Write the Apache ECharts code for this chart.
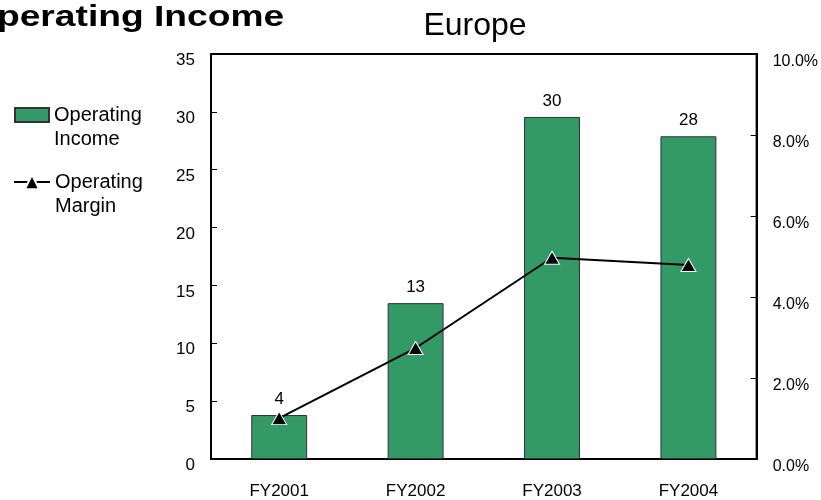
<!DOCTYPE html>
<html>
<head>
<meta charset="utf-8">
<script src="https://cdn.jsdelivr.net/npm/echarts@6/dist/echarts.min.js"></script>
<style>
  html, body { margin: 0; padding: 0; background: #fff; }
  #chart { width: 821px; height: 500px; }
</style>
</head>
<body>
<div id="chart"></div>
<script>
// Europe segment: operating income (bars, left axis) and operating margin (line, right axis)
const categories = ['FY2001', 'FY2002', 'FY2003', 'FY2004'];
const operatingIncome = [3.8, 13.47, 29.56, 27.89];
const operatingMargin = [1.01, 2.74, 4.97, 4.79]; // percent
const incomeTicks = { min: 0, max: 35, step: 5 };
const marginTicks = { min: 0, max: 10, step: 2 };

const FONT = '"Liberation Sans", Arial, sans-serif';
const chart = echarts.init(document.getElementById('chart'), null, { renderer: 'canvas' });

// legend names wrap onto two lines; the leading blank line keeps the
// first line level with the legend symbol
const twoLine = name => '\n' + name.replace(' ', '\n');
const legendText = { fontFamily: FONT, fontSize: 20, color: '#000', lineHeight: 24 };

chart.setOption({
  animation: false,
  backgroundColor: '#fff',
  graphic: [
    {
      type: 'text', x: -32, y: 18, scaleX: 1.24,
      style: { text: 'Operating Income', fontFamily: FONT, fontSize: 30, fontWeight: 'bold',
               fill: '#000', align: 'left', verticalAlign: 'middle' }
    },
    {
      type: 'text', x: 475, y: 26,
      style: { text: 'Europe', fontFamily: FONT, fontSize: 32,
               fill: '#000', align: 'center', verticalAlign: 'middle' }
    }
  ],
  legend: [
    {
      data: [{ name: 'Operating Income', icon: 'rect' }],
      orient: 'vertical', left: 14, top: 79, padding: 0,
      itemWidth: 34, itemHeight: 14, formatter: twoLine, textStyle: legendText,
      selectedMode: false
    },
    {
      data: ['Operating Margin'], orient: 'vertical', left: 13, top: 146, padding: 0,
      itemWidth: 36, itemHeight: 18, formatter: twoLine, textStyle: legendText,
      selectedMode: false
    }
  ],
  grid: {
    left: 211, right: 64, top: 54, bottom: 39,
    show: true, borderColor: '#000', borderWidth: 2, backgroundColor: 'transparent'
  },
  xAxis: {
    type: 'category', data: categories,
    axisLine: { lineStyle: { color: '#000', width: 2 } },
    axisTick: { show: false },
    axisLabel: { color: '#000', fontFamily: FONT, fontSize: 17, margin: 24 }
  },
  yAxis: [
    {
      type: 'value', min: incomeTicks.min, max: incomeTicks.max, interval: incomeTicks.step,
      axisLine: { show: true, lineStyle: { color: '#000', width: 2 } },
      axisTick: { show: true, inside: true, length: 6, lineStyle: { color: '#000', width: 1 } },
      splitLine: { show: false },
      axisLabel: {
        color: '#000', fontFamily: FONT, fontSize: 17, margin: 16,
        verticalAlign: 'top', lineHeight: 13
      }
    },
    {
      type: 'value', min: marginTicks.min, max: marginTicks.max, interval: marginTicks.step,
      position: 'right',
      axisLine: { show: true, lineStyle: { color: '#000', width: 2 } },
      axisTick: { show: true, inside: true, length: 6, lineStyle: { color: '#000', width: 1 } },
      splitLine: { show: false },
      axisLabel: {
        color: '#000', fontFamily: FONT, fontSize: 16, margin: 16,
        verticalAlign: 'top', lineHeight: 15,
        formatter: v => v.toFixed(1) + '%'
      }
    }
  ],
  series: [
    {
      name: 'Operating Income', type: 'bar', yAxisIndex: 0, data: operatingIncome,
      barWidth: '41%',
      itemStyle: { color: '#339966', borderColor: '#333', borderWidth: 1 },
      label: {
        show: true, position: 'top', distance: 7, color: '#000',
        fontFamily: FONT, fontSize: 17,
        formatter: p => String(Math.round(p.value))
      }
    },
    {
      name: 'Operating Margin', type: 'line', yAxisIndex: 1, data: operatingMargin,
      symbol: 'triangle', symbolSize: [15, 13],
      lineStyle: { color: '#000', width: 2 },
      itemStyle: { color: '#000', borderColor: '#fff', borderWidth: 1 },
      z: 5
    }
  ]
});
</script>
</body>
</html>
